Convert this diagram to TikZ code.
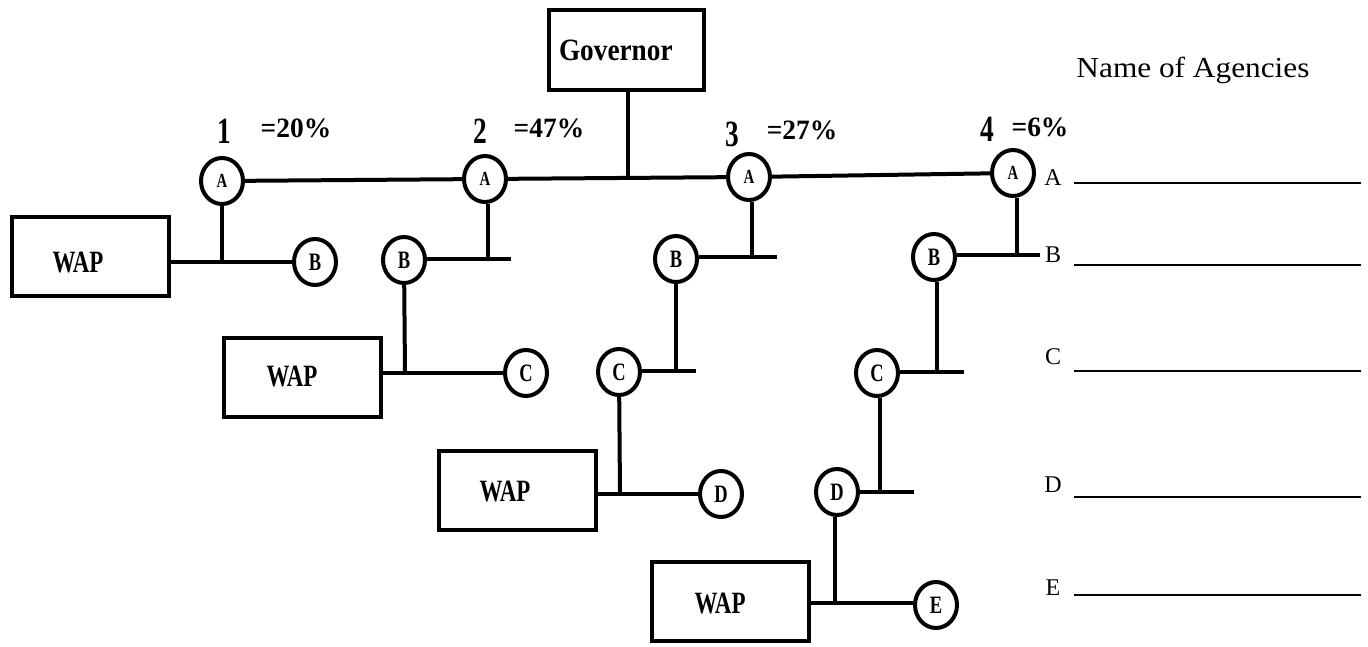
\documentclass[tikz,border=0pt]{standalone}
\usepackage{fontspec}
\setmainfont{Liberation Serif}
\newfontfamily\narrowfont[FakeStretch=0.74]{Liberation Serif}
\newfontfamily\govfont[FakeStretch=0.98]{Liberation Serif}
\newfontfamily\titlefont[FakeStretch=0.88]{Liberation Serif}
\newfontfamily\widefont[FakeStretch=1.08]{Liberation Serif}
\usetikzlibrary{shapes.geometric}
\begin{document}
\begin{tikzpicture}[x=1pt,y=-1pt,line width=4pt,
  wapbox/.style={draw,rectangle,inner sep=0pt,minimum width=157pt,minimum height=79pt},
  waptext/.style={inner sep=0pt,font=\narrowfont\bfseries\fontsize{31}{34}\selectfont},
  govbox/.style={draw,rectangle,inner sep=0pt,minimum width=155pt,minimum height=80pt},
  agent/.style={draw,ellipse,inner sep=0pt,minimum width=42pt,minimum height=46pt,
    font=\narrowfont\bfseries\fontsize{25}{27}\selectfont},
  topagent/.style={agent,font=\narrowfont\bfseries\fontsize{20}{22}\selectfont},
  num/.style={inner sep=0pt,font=\narrowfont\bfseries\fontsize{37}{40}\selectfont},
  share/.style={inner sep=0pt,font=\govfont\bfseries\fontsize{28}{30}\selectfont},
  rowlabel/.style={inner sep=0pt,font=\fontsize{24}{26}\selectfont},
  blank/.style={line width=2.8pt}]
\useasboundingbox (0,0) rectangle (1368,646);

% governor and the top line
\node[govbox] (gov) at (626.5,50) {};
\node[inner sep=0pt,font=\titlefont\bfseries\fontsize{31}{34}\selectfont,anchor=west] (govtext) at (557,50) {Governor};
\node[topagent] (a1) at (222,181) {A};
\node[topagent] (a2) at (485,179) {A};
\node[topagent] (a3) at (749,177) {A};
\node[topagent] (a4) at (1013,173) {A};
\draw (a1) -- (a2);
\draw (a2) -- (a3);
\draw (a3) -- (a4);
\coordinate (govfoot) at (628,177);
\draw (gov.south -| govfoot) -- (govfoot);

% shares
\node[num]   (n1) at (224,131) {1};
\node[share] (p1) at (296,128) {=20\%};
\node[num]   (n2) at (480,131) {2};
\node[share] (p2) at (549,128) {=47\%};
\node[num]   (n3) at (732,134) {3};
\node[share] (p3) at (802,130) {=27\%};
\node[num]   (n4) at (987,129) {4};
\node[share] (p4) at (1040,127) {=6\%};

% branch 1
\node[wapbox] (w1) at (90.5,256) {};
\node[waptext] (w1t) at (78,262) {WAP};
\node[agent] (b1) at (315,262) {B};
\coordinate (j1) at (222,262);
\draw (a1) -- (j1);
\draw (w1.east |- j1) -- (b1);

% branch 2
\node[agent] (b2) at (404,260) {B};
\coordinate (j2) at (488,259);
\coordinate (e2) at (511,259);
\draw (a2.south -| j2) -- (j2);
\draw (b2.east |- j2) -- (e2);
\node[wapbox] (w2) at (302.5,377.5) {};
\node[waptext] (w2t) at (292,376) {WAP};
\node[agent] (c2) at (526,373) {C};
\coordinate (k2) at (405,373);
\draw (b2) -- (k2);
\draw (w2.east |- k2) -- (c2);

% branch 3
\node[agent] (b3) at (676,259) {B};
\coordinate (j3) at (752,257);
\coordinate (e3) at (777,257);
\draw (a3.south -| j3) -- (j3);
\draw (b3.east |- j3) -- (e3);
\node[agent] (c3) at (619,372) {C};
\coordinate (k3) at (676,371);
\coordinate (f3) at (696,371);
\draw (b3) -- (k3);
\draw (c3.east |- k3) -- (f3);
\node[wapbox] (w3) at (517,490.5) {};
\node[waptext] (w3t) at (505,491) {WAP};
\node[agent] (d3) at (721,494) {D};
\coordinate (m3) at (620,494);
\draw (c3) -- (m3);
\draw (w3.east |- m3) -- (d3);

% branch 4
\node[agent] (b4) at (934,257) {B};
\coordinate (j4) at (1017,255);
\coordinate (e4) at (1040,255);
\draw (a4.south -| j4) -- (j4);
\draw (b4.east |- j4) -- (e4);
\node[agent] (c4) at (877,373) {C};
\coordinate (k4) at (937,372);
\coordinate (f4) at (964,372);
\draw (b4.south -| k4) -- (k4);
\draw (c4.east |- k4) -- (f4);
\node[agent] (d4) at (837,492) {D};
\coordinate (m4) at (880,492);
\coordinate (g4) at (914,492);
\draw (c4.south -| m4) -- (m4);
\draw (d4.east |- m4) -- (g4);
\node[wapbox] (w4) at (730.5,601) {};
\node[waptext] (w4t) at (720,603) {WAP};
\node[agent] (e5) at (936,605) {E};
\coordinate (q4) at (835,603);
\draw (d4.south -| q4) -- (q4);
\draw (w4.east |- q4) -- (e5.west |- q4);

% agency list
\node[inner sep=0pt,font=\widefont\fontsize{29}{32}\selectfont] (title) at (1193,70) {Name of Agencies};
\foreach \l/\ly/\ry in {A/178/183, B/255/265, C/357/371, D/485/497, E/588/595}{
  \node[rowlabel] (lab\l) at (1053,\ly) {\l};
  \coordinate (ls\l) at (1074,\ry);
  \coordinate (le\l) at (1361,\ry);
  \draw[blank] (ls\l) -- (le\l);
}
\end{tikzpicture}
\end{document}
